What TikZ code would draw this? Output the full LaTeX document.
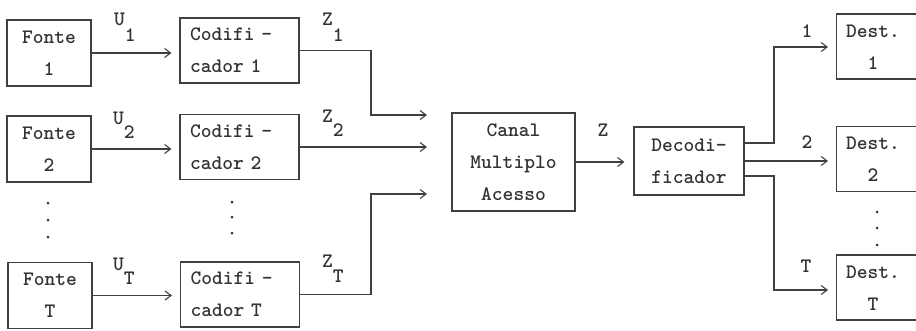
\documentclass[tikz,border=0pt]{standalone}
\usetikzlibrary{arrows.meta}
\begin{document}
\begin{tikzpicture}[x=1pt,y=-1pt,
  every node/.style={font=\ttfamily\bfseries\fontsize{20.5}{32}\selectfont, text=black!80},
  boxstyle/.style={draw=black!75, line width=1.1pt, inner sep=0pt},
  fonte/.style={boxstyle, minimum width=84pt, minimum height=66pt, align=center},
  codif/.style={boxstyle, minimum width=119pt, minimum height=65pt, text width=99pt, inner xsep=10pt, align=left},
  canal/.style={boxstyle, minimum width=123pt, minimum height=98pt, align=center},
  decod/.style={boxstyle, minimum width=110pt, minimum height=68pt, align=center},
  destbox/.style={boxstyle, minimum width=100pt, minimum height=65pt},
  txt/.style={inner sep=0pt, align=center},
  lbl/.style={inner sep=0pt, anchor=base west},
  conn/.style={draw=black!75, line width=1.1pt, -{Straight Barb[length=6pt,width=9pt]}, shorten >=8pt},
  dotmark/.style={fill=black!80, circle, inner sep=0pt, minimum size=3pt}
]
\clip (0,0) rectangle (916,330);

% sources
\node[fonte] (F1) at (49,53) {Fonte\\1};
\node[fonte] (F2) at (49,149) {Fonte\\2};
\node[fonte] (FT) at (50,295.5) {Fonte\\T};

% encoders
\node[codif] (C1) at (239.5,50.5) {Codifi -\\cador 1};
\node[codif] (C2) at (239.5,147) {Codifi -\\cador 2};
\node[codif] (CT) at (240,294.5) {Codifi -\\cador T};

% channel and decoder
\node[canal] (Ca) at (513.5,162) {Canal\\Multiplo\\Acesso};
\node[decod] (Dec) at (689,161) {Decodi-\\ficador};

% destinations
\node[destbox, anchor=west] (D1) at (836,46.5) {};
\node[destbox, anchor=west] (D2) at (836,159) {};
\node[destbox, anchor=west] (DT) at (836,287.5) {};
\node[txt] (D1t) at (873,47) {Dest.\\1};
\node[txt] (D2t) at (873,159) {Dest.\\2};
\node[txt] (DTt) at (873,288) {Dest.\\T};

% dots
\node[dotmark] (p1) at (48,203) {};
\node[dotmark] (p2) at (48,220) {};
\node[dotmark] (p3) at (48,237) {};
\node[dotmark] (q1) at (232,202) {};
\node[dotmark] (q2) at (232,217) {};
\node[dotmark] (q3) at (232,233) {};
\node[dotmark] (r1) at (877,212) {};
\node[dotmark] (r2) at (877,228) {};
\node[dotmark] (r3) at (877,245) {};

% labels
\node[lbl] (lu1) at (114,25) {U\raisebox{-16pt}{1}};
\node[lbl] (lu2) at (113,124) {U\raisebox{-14pt}{2}};
\node[lbl] (lut) at (113,270) {U\raisebox{-14pt}{T}};
\node[lbl] (lz1) at (322,25) {Z\raisebox{-16pt}{1}};
\node[lbl] (lz2) at (322,122) {Z\raisebox{-14pt}{2}};
\node[lbl] (lzt) at (322,267) {Z\raisebox{-15pt}{T}};
\node[lbl, anchor=base] (lz) at (603,136) {Z};
\node[lbl, anchor=base] (lo1) at (807,37) {1};
\node[lbl, anchor=base] (lo2) at (807,148) {2};
\node[lbl, anchor=base] (lot) at (806,272) {T};

% junction / free-end coordinates
\coordinate (j1) at (371,115);
\coordinate (j3) at (371,194);
\coordinate (a1) at (427,115);
\coordinate (a2) at (427,147);
\coordinate (a3) at (427,194);
\coordinate (j4) at (774,47);
\coordinate (j5) at (774,290);

% connectors
\draw[conn] (F1.east) -- (F1.east -| C1.west);
\draw[conn] (F2.east) -- (F2.east -| C2.west);
\draw[conn] (FT.east) -- (FT.east -| CT.west);

\draw[conn, shorten >=0pt] (C1.east) -| (j1) -- (a1);
\draw[conn, shorten >=0pt] (C2.east) -- (a2);
\draw[conn, shorten >=0pt] (CT.east) -| (j3) -- (a3);

\draw[conn, shorten >=9pt] (Ca.east) -- (Ca.east -| Dec.west);

\draw[conn] ([yshift=18pt]Dec.east) -| (j4) -- (j4 -| D1.west);
\draw[conn] (Dec.east) -- (Dec.east -| D2.west);
\draw[conn] ([yshift=-15pt]Dec.east) -| (j5) -- (j5 -| DT.west);
\end{tikzpicture}
\end{document}
